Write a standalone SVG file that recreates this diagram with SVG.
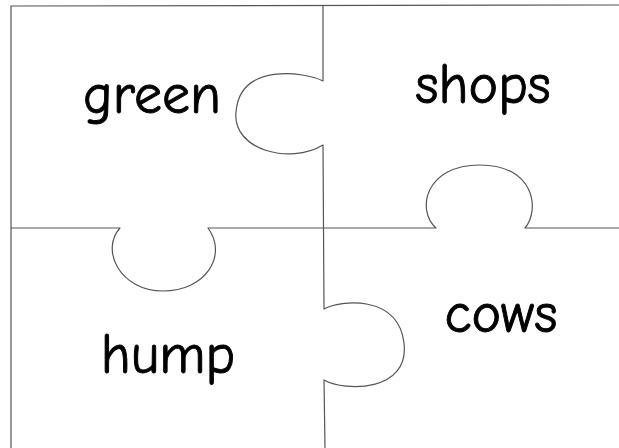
<svg xmlns="http://www.w3.org/2000/svg" width="619" height="448" viewBox="0 0 619 448">
<style>
.ln{fill:none;stroke:#555;stroke-width:1.2;stroke-linejoin:round}
.t{font-family:"Comic Sans MS","Comic Neue","Open Sans",sans-serif;font-size:56px;fill:#000;stroke:#000;stroke-width:0.9;text-anchor:middle}
</style>
<rect width="619" height="448" fill="#fff"/>
<g id="connectors">
<path class="ln" d="M11,448 L11,6 L619,5"/>
<path class="ln" d="M323,6 L323,81 C305,72 240,62 236,112 C232,150 290,165 323,145 L324,309 C340,300 398,294 404,343 C410,392 345,392 324,380 L325,448"/>
<path class="ln" d="M11,228 L120,228 C100,250 120,291 163,291 C206,291 228,255 208,228 L436,228 C416,210 425,165 480,165 C535,165 540,210 525,228 L619,228"/>
</g>
<g id="green"><text class="t" x="152" y="113">green</text></g>
<g id="shops"><text class="t" x="483" y="103">shops</text></g>
<g id="hump"><text class="t" x="168" y="373">hump</text></g>
<g id="cows"><text class="t" x="501" y="332">cows</text></g>
</svg>
